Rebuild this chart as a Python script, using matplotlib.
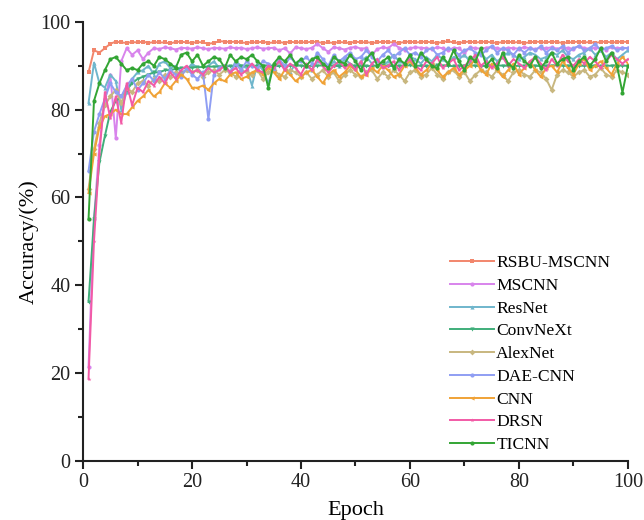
import numpy as np
import matplotlib
matplotlib.use('Agg')
import matplotlib.pyplot as plt
from matplotlib.ticker import MultipleLocator

plt.rcParams['font.family'] = ['Liberation Serif', 'DejaVu Serif']

epochs = np.arange(1, 101)

rsbu_mscnn = [
    88.5, 93.5, 93.0, 94.0, 95.0, 95.5, 95.3, 95.2, 95.4, 95.3,
    95.5, 95.2, 95.4, 95.3, 95.3, 95.1, 95.4, 95.5, 95.3, 95.2,
    95.4, 95.3, 95.0, 95.2, 95.6, 95.5, 95.4, 95.5, 95.3, 95.2,
    95.4, 95.3, 95.5, 95.2, 95.3, 95.4, 95.2, 95.5, 95.3, 95.4,
    95.3, 95.5, 95.4, 95.2, 95.3, 95.2, 95.4, 95.3, 95.2, 95.5,
    95.3, 95.4, 95.2, 95.3, 95.5, 95.4, 95.3, 95.2, 95.4, 95.5,
    95.3, 95.4, 95.5, 95.3, 95.2, 95.4, 95.6, 95.3, 95.2, 95.4,
    95.5, 95.3, 95.4, 95.5, 95.3, 95.2, 95.4, 95.5, 95.3, 95.4,
    95.2, 95.3, 95.5, 95.4, 95.3, 95.5, 95.4, 95.2, 95.3, 95.4,
    95.5, 95.3, 95.4, 95.2, 95.4, 95.5, 95.3, 95.4, 95.5, 95.4]

mscnn = [
    21.4, 55.0, 72.0, 82.0, 88.0, 73.5, 91.0, 94.0, 92.5, 93.5,
    91.5, 93.0, 94.0, 93.8, 94.2, 94.0, 93.7, 94.1, 94.0, 93.9,
    94.2, 94.0, 93.8, 94.1, 94.0, 93.9, 94.2, 94.0, 94.1, 93.8,
    94.0, 94.2, 93.9, 94.0, 94.1, 93.5, 94.0, 92.8, 94.2, 94.0,
    93.8, 94.1, 95.0, 94.0, 93.2, 94.2, 94.0, 93.7, 94.1, 94.3,
    93.9, 94.0, 92.5, 93.8, 94.2, 94.0, 95.0, 94.1, 93.6, 94.0,
    94.2, 94.1, 94.0, 93.8, 94.2, 94.0, 93.5, 94.1, 94.0, 92.8,
    94.2, 94.0, 93.9, 94.1, 94.3, 94.0, 93.8, 94.1, 94.0, 93.9,
    94.2, 94.0, 93.8, 94.1, 94.0, 94.2, 93.9, 94.0, 94.1, 93.8,
    94.5, 94.0, 93.9, 94.1, 94.0, 93.7, 94.2, 94.0, 94.1, 94.0]

resnet = [
    81.5, 90.7, 86.0, 85.0, 88.0, 86.5, 80.0, 84.0, 87.0, 88.5,
    89.0, 90.0, 88.0, 90.5, 91.0, 89.5, 90.0, 88.5, 89.0, 90.5,
    89.5, 88.0, 90.0, 91.0, 89.5, 90.0, 88.5, 91.0, 90.0, 89.5,
    85.5, 90.5, 89.0, 86.0, 90.0, 91.0, 89.5, 88.5, 90.5, 91.5,
    90.0, 89.0, 91.0, 90.5, 89.5, 91.0, 90.0, 91.5, 90.5, 89.5,
    91.0, 92.0, 90.5, 91.5, 90.0, 91.0, 92.5, 91.0, 90.5, 92.0,
    91.5, 90.5, 92.0, 91.0, 92.5, 91.5, 90.5, 92.0, 91.5, 92.5,
    91.0, 92.0, 93.0, 91.5, 92.5, 91.0, 92.0, 93.0, 92.5, 91.5,
    92.0, 93.0, 92.5, 91.5, 92.0, 93.0, 92.5, 93.5, 92.0, 91.5,
    92.5, 93.0, 94.0, 92.5, 93.5, 92.0, 93.0, 91.5, 92.5, 93.5]

convnext = [
    36.2, 55.0, 68.0, 74.0, 79.5, 82.0, 83.0, 84.5, 86.0, 87.0,
    87.5, 88.0, 88.5, 88.5, 89.0, 89.0, 89.3, 89.5, 89.5, 89.6,
    89.7, 89.7, 89.8, 89.8, 89.8, 89.9, 89.9, 89.9, 90.0, 90.0,
    90.0, 89.9, 90.0, 90.1, 90.0, 89.9, 90.0, 90.0, 90.1, 90.0,
    89.9, 90.0, 90.0, 90.1, 90.0, 90.0, 89.9, 90.0, 90.1, 90.0,
    90.0, 89.9, 90.0, 90.0, 90.1, 90.0, 89.9, 90.0, 90.0, 90.1,
    90.0, 90.0, 89.9, 90.0, 90.1, 90.0, 90.0, 89.9, 90.0, 90.0,
    90.1, 90.0, 89.9, 90.0, 90.0, 90.1, 90.0, 90.0, 89.9, 90.0,
    90.0, 90.1, 90.0, 89.9, 90.0, 90.0, 90.1, 90.0, 90.0, 89.9,
    90.0, 90.0, 90.1, 90.0, 89.9, 90.0, 90.0, 90.1, 90.0, 90.0]

alexnet = [
    62.0, 71.0, 77.0, 81.0, 83.0, 84.5, 81.5, 85.0, 84.0, 86.0,
    86.5, 85.5, 87.0, 86.5, 88.0, 87.5, 88.5, 88.0, 89.0, 88.5,
    89.0, 87.5, 88.5, 89.0, 88.0, 89.0, 88.5, 87.5, 89.0, 88.5,
    88.0, 89.0, 87.0, 88.5, 89.0, 88.0, 87.5, 89.0, 88.5, 87.5,
    88.5, 87.0, 88.0, 89.0, 87.5, 88.5, 86.5, 88.0, 89.0, 88.0,
    87.5, 88.5, 89.0, 87.0, 88.5, 87.5, 89.0, 88.0, 86.5, 88.5,
    89.0, 87.5, 88.0, 89.5, 88.0, 87.0, 88.5, 89.0, 87.5, 88.5,
    86.5, 88.0, 89.0, 88.5, 87.5, 89.0, 88.0, 86.5, 88.5, 89.0,
    88.0, 87.5, 89.0, 88.5, 87.0, 84.5, 88.0, 89.0, 88.5, 87.5,
    88.5, 89.0, 87.5, 88.0, 89.5, 88.0, 87.5, 89.0, 88.5, 88.0]

dae_cnn = [
    66.0, 75.0, 79.0, 82.5, 86.0, 84.0, 83.0, 85.5, 87.0, 84.5,
    86.0, 88.0, 86.5, 88.5, 87.0, 89.0, 88.0, 87.5, 89.5, 88.0,
    87.0, 88.5, 77.8, 88.0, 89.5, 90.0, 88.5, 90.5, 89.0, 91.0,
    90.0, 89.5, 91.0, 90.5, 89.0, 91.5, 90.0, 92.0, 90.5, 91.0,
    92.0, 90.5, 93.0, 91.5, 90.0, 92.5, 91.0, 92.0, 93.0, 91.5,
    92.0, 93.5, 92.0, 91.0, 92.5, 93.5, 92.0, 93.0, 94.0, 92.5,
    93.0, 92.0, 93.5, 94.0, 92.5, 93.0, 94.0, 93.5, 92.5, 93.5,
    94.0, 93.0, 92.5, 93.5, 94.5, 93.0, 94.0, 93.5, 92.5, 94.0,
    93.0, 94.0, 93.5, 94.5, 93.0, 94.0, 93.5, 94.5, 93.0, 94.0,
    94.5, 93.5, 94.0, 95.0, 93.5, 94.0, 94.5, 93.5, 94.0, 94.0]

cnn = [
    61.0, 70.0, 76.0, 78.5, 79.0, 80.0, 79.0, 79.0, 80.5, 82.0,
    83.0, 84.5, 83.0, 84.0, 86.0, 85.0, 86.5, 88.0, 87.0, 85.0,
    85.0, 85.5, 84.5, 86.0, 87.0, 86.5, 88.0, 88.5, 87.0, 87.5,
    88.5, 89.0, 88.0, 89.5, 88.5, 87.0, 89.0, 88.0, 86.5, 87.5,
    88.5, 89.0, 87.5, 86.0, 88.0, 89.0, 87.5, 88.5, 90.0, 89.0,
    87.5, 88.0, 89.5, 88.5, 90.0, 89.0, 87.5, 88.0, 90.0, 91.0,
    89.5, 88.0, 89.0, 90.5, 89.0, 87.5, 88.5, 89.5, 88.0, 89.0,
    90.0, 91.5, 89.0, 88.0, 90.5, 89.0, 87.5, 89.0, 90.5, 88.0,
    89.5, 91.0, 89.0, 87.5, 89.5, 90.0, 88.5, 91.0, 89.5, 88.0,
    90.5, 91.5, 89.0, 90.0, 91.0, 89.5, 88.0, 90.5, 92.0, 90.5]

drsn = [
    18.7, 50.0, 70.0, 84.0, 78.0, 83.0, 77.0, 86.0, 81.0, 85.0,
    84.0, 86.5, 85.5, 87.5, 86.0, 88.5, 87.0, 89.0, 90.0, 88.5,
    89.0, 88.0, 89.5, 88.5, 89.0, 90.0, 88.5, 89.5, 88.0, 89.0,
    90.5, 89.0, 88.5, 90.0, 89.5, 91.0, 89.0, 90.5, 89.5, 88.0,
    90.5, 89.0, 91.5, 90.0, 88.5, 90.0, 91.0, 89.5, 90.5, 89.0,
    91.0, 88.0, 90.5, 91.5, 89.5, 90.0, 91.0, 89.0, 90.5, 91.5,
    90.0, 89.0, 91.0, 90.5, 92.0, 89.5, 90.5, 91.5, 89.0, 90.0,
    91.0, 92.5, 90.0, 91.0, 89.5, 90.5, 92.0, 90.0, 91.5, 90.5,
    89.5, 91.0, 92.0, 90.5, 89.0, 91.5, 90.0, 92.5, 91.0, 90.0,
    91.5, 90.5, 92.0, 91.0, 89.5, 91.0, 92.5, 91.5, 90.5, 91.5]

ticnn = [
    55.0, 82.0, 86.0, 89.0, 91.5, 92.0, 90.5, 89.0, 89.5, 89.0,
    90.5, 91.0, 90.0, 92.0, 91.5, 90.5, 89.5, 92.5, 93.0, 91.0,
    92.5, 90.0, 91.0, 92.0, 91.5, 89.5, 92.5, 91.0, 92.0, 91.5,
    92.5, 91.0, 90.0, 85.0, 90.5, 92.0, 91.0, 92.5, 90.5, 91.5,
    90.0, 91.5, 92.0, 90.5, 89.5, 92.0, 91.0, 90.5, 92.5, 91.0,
    89.0, 91.5, 93.0, 90.0, 91.0, 92.0, 89.5, 91.5, 90.5, 92.5,
    90.0, 93.0, 91.5, 90.0, 89.5, 92.0, 90.5, 93.5, 91.0, 89.0,
    92.0, 91.0, 94.0, 90.0, 91.5, 89.5, 93.0, 90.5, 89.5, 92.5,
    91.0, 90.0, 92.0, 89.5, 91.0, 93.0, 90.5, 91.5, 92.0, 89.0,
    91.0, 92.0, 90.0, 91.5, 94.0, 91.0, 93.0, 90.0, 83.9, 90.0]

names = ['RSBU-MSCNN', 'MSCNN', 'ResNet', 'ConvNeXt', 'AlexNet',
         'DAE-CNN', 'CNN', 'DRSN', 'TICNN']
series = [rsbu_mscnn, mscnn, resnet, convnext, alexnet,
          dae_cnn, cnn, drsn, ticnn]
colors = ['#f2866c', '#d884ec', '#6fb6cc', '#3fae7a', '#c8b77f',
          '#8f9ef3', '#f0a236', '#f25aa6', '#33a534']
markers = ['s', 'o', '^', 'v', 'D', 'o', '<', '*', 'o']

fig = plt.figure(figsize=(6.44, 5.2), dpi=100)
ax = fig.add_axes([0.129, 0.1135, 0.846, 0.8445])

for name, vals, c, m in zip(names, series, colors, markers):
    ax.plot(epochs, vals, color=c, marker=m, markersize=3, linewidth=1.4,
            markeredgewidth=0, label=name)

ax.set_xlim(0, 100)
ax.set_ylim(0, 100)
ax.xaxis.set_major_locator(MultipleLocator(20))
ax.xaxis.set_minor_locator(MultipleLocator(10))
ax.yaxis.set_major_locator(MultipleLocator(20))
ax.yaxis.set_minor_locator(MultipleLocator(10))

for side in ['top', 'right']:
    ax.spines[side].set_visible(False)
for side in ['left', 'bottom']:
    ax.spines[side].set_linewidth(1.5)
    ax.spines[side].set_color('#222222')

ax.tick_params(which='major', direction='out', length=6, width=1.5,
               labelsize=14.5, colors='#222222', pad=3)
ax.tick_params(which='minor', direction='out', length=3.5, width=1.5,
               colors='#222222')

ax.set_xlabel('Epoch', fontsize=16, labelpad=6)
ax.set_ylabel('Accuracy/(%)', fontsize=16, labelpad=1)

ax.legend(loc='lower right', bbox_to_anchor=(0.99, -0.01), frameon=False,
          fontsize=12.6, handlelength=2.5, handletextpad=0.15,
          labelspacing=0.37, borderaxespad=0.3)

fig.savefig('out.png', dpi=100)
